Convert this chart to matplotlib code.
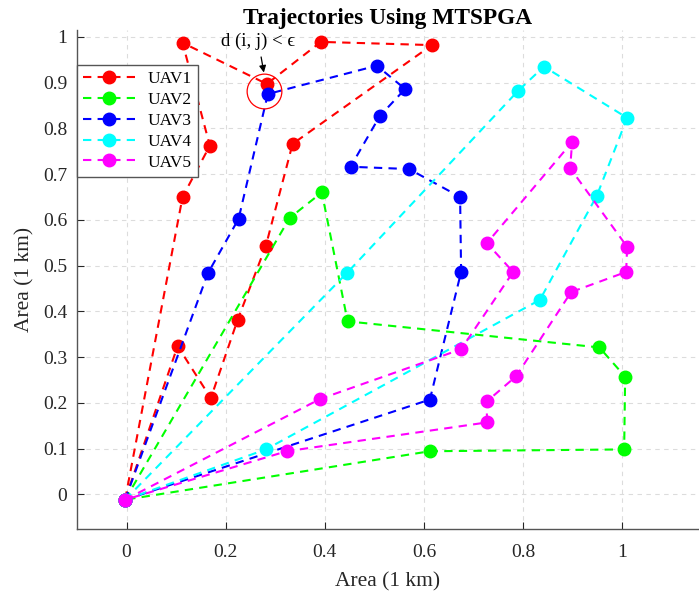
import matplotlib
matplotlib.use("Agg")
import matplotlib.pyplot as plt

plt.rcParams['font.family'] = ['Liberation Serif', 'DejaVu Serif']

depot = (-0.003, -0.012)

uav1_x = [0.113, 0.168, 0.113, 0.283, 0.392, 0.616, 0.335, 0.281, 0.224, 0.170, 0.103]
uav1_y = [0.650, 0.762, 0.987, 0.897, 0.989, 0.982, 0.766, 0.543, 0.381, 0.210, 0.324]

uav2_x = [0.329, 0.394, 0.446, 0.954, 1.006, 1.004, 0.612]
uav2_y = [0.604, 0.660, 0.378, 0.321, 0.257, 0.098, 0.094]

uav3_x = [0.164, 0.226, 0.285, 0.505, 0.562, 0.511, 0.452, 0.570, 0.673, 0.675, 0.612]
uav3_y = [0.483, 0.602, 0.875, 0.937, 0.886, 0.827, 0.716, 0.711, 0.650, 0.486, 0.207]

uav4_x = [0.444, 0.790, 0.842, 1.010, 0.949, 0.834, 0.281]
uav4_y = [0.483, 0.882, 0.935, 0.823, 0.653, 0.425, 0.098]

uav5_x = [0.390, 0.675, 0.780, 0.727, 0.899, 0.895, 1.010, 1.008, 0.897, 0.786, 0.727, 0.727, 0.323]
uav5_y = [0.208, 0.317, 0.486, 0.549, 0.770, 0.713, 0.541, 0.486, 0.442, 0.258, 0.203, 0.157, 0.094]

labels = ['UAV1', 'UAV2', 'UAV3', 'UAV4', 'UAV5']
colors = ['#ff0000', '#00ff00', '#0000ff', '#00ffff', '#ff00ff']
routes = [(uav1_x, uav1_y), (uav2_x, uav2_y), (uav3_x, uav3_y), (uav4_x, uav4_y), (uav5_x, uav5_y)]

xticks = [0, 0.2, 0.4, 0.6, 0.8, 1]
xticklabels = ['0', '0.2', '0.4', '0.6', '0.8', '1']
yticks = [0, 0.1, 0.2, 0.3, 0.4, 0.5, 0.6, 0.7, 0.8, 0.9, 1]
yticklabels = ['0', '0.1', '0.2', '0.3', '0.4', '0.5', '0.6', '0.7', '0.8', '0.9', '1']

circle_center = (0.277, 0.881)

fig = plt.figure(figsize=(6.99, 5.94), dpi=100)
ax = fig.add_axes([77/699, 1-529/594, 1-77/699, (529-30)/594])

for (xs, ys), c, lab in zip(routes, colors, labels):
    px = [depot[0]] + list(xs) + [depot[0]]
    py = [depot[1]] + list(ys) + [depot[1]]
    ax.plot(px, py, linestyle=(0, (4, 3)), color=c, lw=1.5, marker='o',
            markersize=9, markerfacecolor=c, markeredgecolor=c, label=lab)

# circle highlight
ax.plot([circle_center[0]], [circle_center[1]], marker='o', markersize=25,
        markerfacecolor='none', markeredgecolor='#ff0000', markeredgewidth=0.9, linestyle='none')
ax.annotate('d (i, j) < ϵ', xy=(0.277, 0.922), xytext=(0.266, 0.990),
            ha='center', va='center', fontsize=13.5,
            arrowprops=dict(arrowstyle='-|>', color='black', lw=0.9, mutation_scale=10,
                            shrinkA=3, shrinkB=0))

ax.set_xlim(-0.1, 1.155)
ax.set_ylim(-0.076, 1.015)
ax.set_xticks(xticks)
ax.set_xticklabels(xticklabels)
ax.set_yticks(yticks)
ax.set_yticklabels(yticklabels)
ax.tick_params(direction='in', labelsize=14, colors='#262626', length=5, width=0.8,
               labelcolor='#262626')
ax.tick_params(axis='x', pad=11)
ax.tick_params(axis='y', pad=7)
ax.grid(True, linestyle=(0, (4, 4)), color='#dcdcdc', lw=0.8)
ax.set_axisbelow(True)
for s in ['top', 'right']:
    ax.spines[s].set_visible(False)
for s in ['left', 'bottom']:
    ax.spines[s].set_color('#555555')
    ax.spines[s].set_linewidth(1.0)

ax.set_xlabel('Area (1 km)', fontsize=15.5, color='#262626', labelpad=8)
ax.set_ylabel('Area (1 km)', fontsize=15.5, color='#262626', labelpad=6)
ax.set_title('Trajectories Using MTSPGA', fontsize=16.8, fontweight='bold', pad=4)

leg = ax.legend(loc='upper left', bbox_to_anchor=(0.0, 0.93), fontsize=12.5,
                handlelength=3.0, handletextpad=0.7, labelspacing=0.27,
                borderpad=0.35, frameon=True, fancybox=False, framealpha=1,
                borderaxespad=0)
leg.get_frame().set_edgecolor('#555555')
leg.get_frame().set_linewidth(1.0)

fig.savefig('out.png', dpi=100)
